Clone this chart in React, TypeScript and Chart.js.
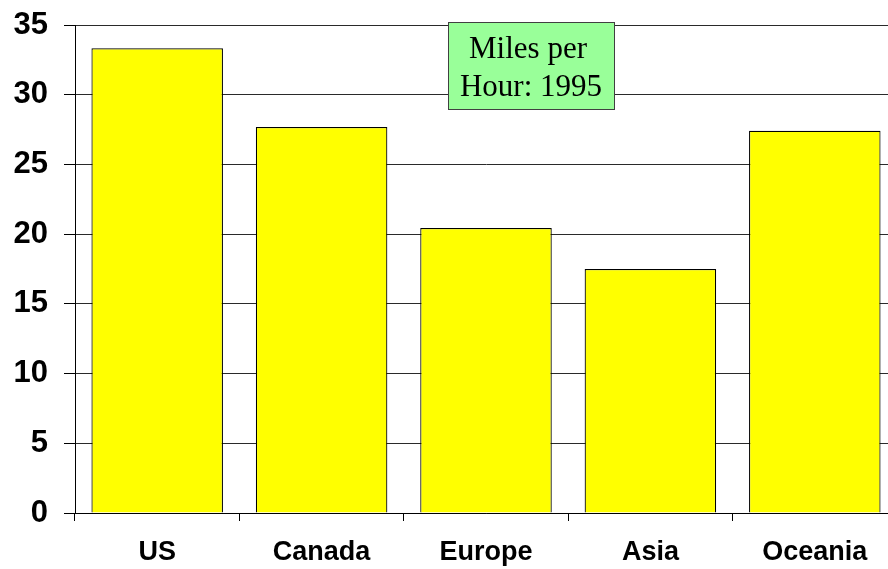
import React, { useEffect, useRef } from "react";
import { Chart, registerables } from "chart.js";

Chart.register(...registerables);

const regions = ["US", "Canada", "Europe", "Asia", "Oceania"];
const mph1995 = [33.33, 27.68, 20.44, 17.5, 27.42];
const titleLines = ["Miles per", "Hour: 1995"];

const CANVAS_W = 900;
const CANVAS_H = 569;

const titleBox = {
  id: "titleBox",
  afterDraw(chart: Chart) {
    const ctx = chart.ctx;
    const x0 = 448;
    const y0 = 22.5;
    const w = 166;
    const h = 87;
    ctx.save();
    ctx.fillStyle = "#99ff99";
    ctx.fillRect(x0, y0, w, h);
    ctx.strokeStyle = "#404040";
    ctx.lineWidth = 1;
    ctx.strokeRect(x0 + 0.5, y0, w, h);
    ctx.fillStyle = "#000";
    ctx.font = '31px "Liberation Serif", "Times New Roman", serif';
    ctx.textAlign = "center";
    ctx.textBaseline = "alphabetic";
    ctx.fillText(titleLines[0], x0 + w / 2 - 3, 58);
    ctx.fillText(titleLines[1], x0 + w / 2, 96);
    ctx.restore();
  },
};

export default function App() {
  const ref = useRef<HTMLCanvasElement | null>(null);

  useEffect(() => {
    if (!ref.current) return;
    const chart = new Chart(ref.current, {
      type: "bar",
      data: {
        labels: regions,
        datasets: [
          {
            data: mph1995,
            backgroundColor: "#ffff00",
            borderColor: "#000000",
            borderWidth: 1.2,
            barPercentage: 0.8,
            categoryPercentage: 1,
          },
        ],
      },
      options: {
        responsive: false,
        animation: false,
        layout: { padding: { top: 25, right: 3, left: 0, bottom: 0 } },
        plugins: {
          legend: { display: false },
          tooltip: { enabled: false },
        },
        scales: {
          x: {
            grid: {
              display: true,
              offset: true,
              drawOnChartArea: false,
              drawTicks: true,
              tickLength: 8,
              tickColor: "#000",
              color: "#000",
            },
            border: { display: true, color: "#000", width: 1 },
            ticks: {
              color: "#000",
              padding: 15,
              font: { family: '"Liberation Sans", Arial, sans-serif', size: 27, weight: "bold" },
            },
            afterFit(scale: any) {
              scale.height = 56;
              scale.paddingLeft = 0;
              scale.paddingRight = 0;
            },
          },
          y: {
            min: 0,
            max: 35,
            ticks: {
              stepSize: 5,
              color: "#000",
              padding: 16,
              font: { family: '"Liberation Sans", Arial, sans-serif', size: 31, weight: "bold" },
            },
            grid: {
              color: "#2a2a2a",
              lineWidth: 1,
              drawTicks: true,
              tickLength: 11,
              tickColor: "#000",
            },
            border: { display: true, color: "#000", width: 1 },
            afterFit(scale: any) {
              scale.width = 75;
              scale.paddingTop = 0;
              scale.paddingBottom = 0;
            },
          },
        },
      },
      plugins: [titleBox],
    });
    return () => chart.destroy();
  }, []);

  return (
    <div
      style={{
        position: "fixed",
        left: 0,
        top: 0,
        width: 888,
        height: 569,
        overflow: "hidden",
        background: "#fff",
      }}
    >
      <canvas ref={ref} width={CANVAS_W} height={CANVAS_H} style={{ display: "block" }} />
    </div>
  );
}
